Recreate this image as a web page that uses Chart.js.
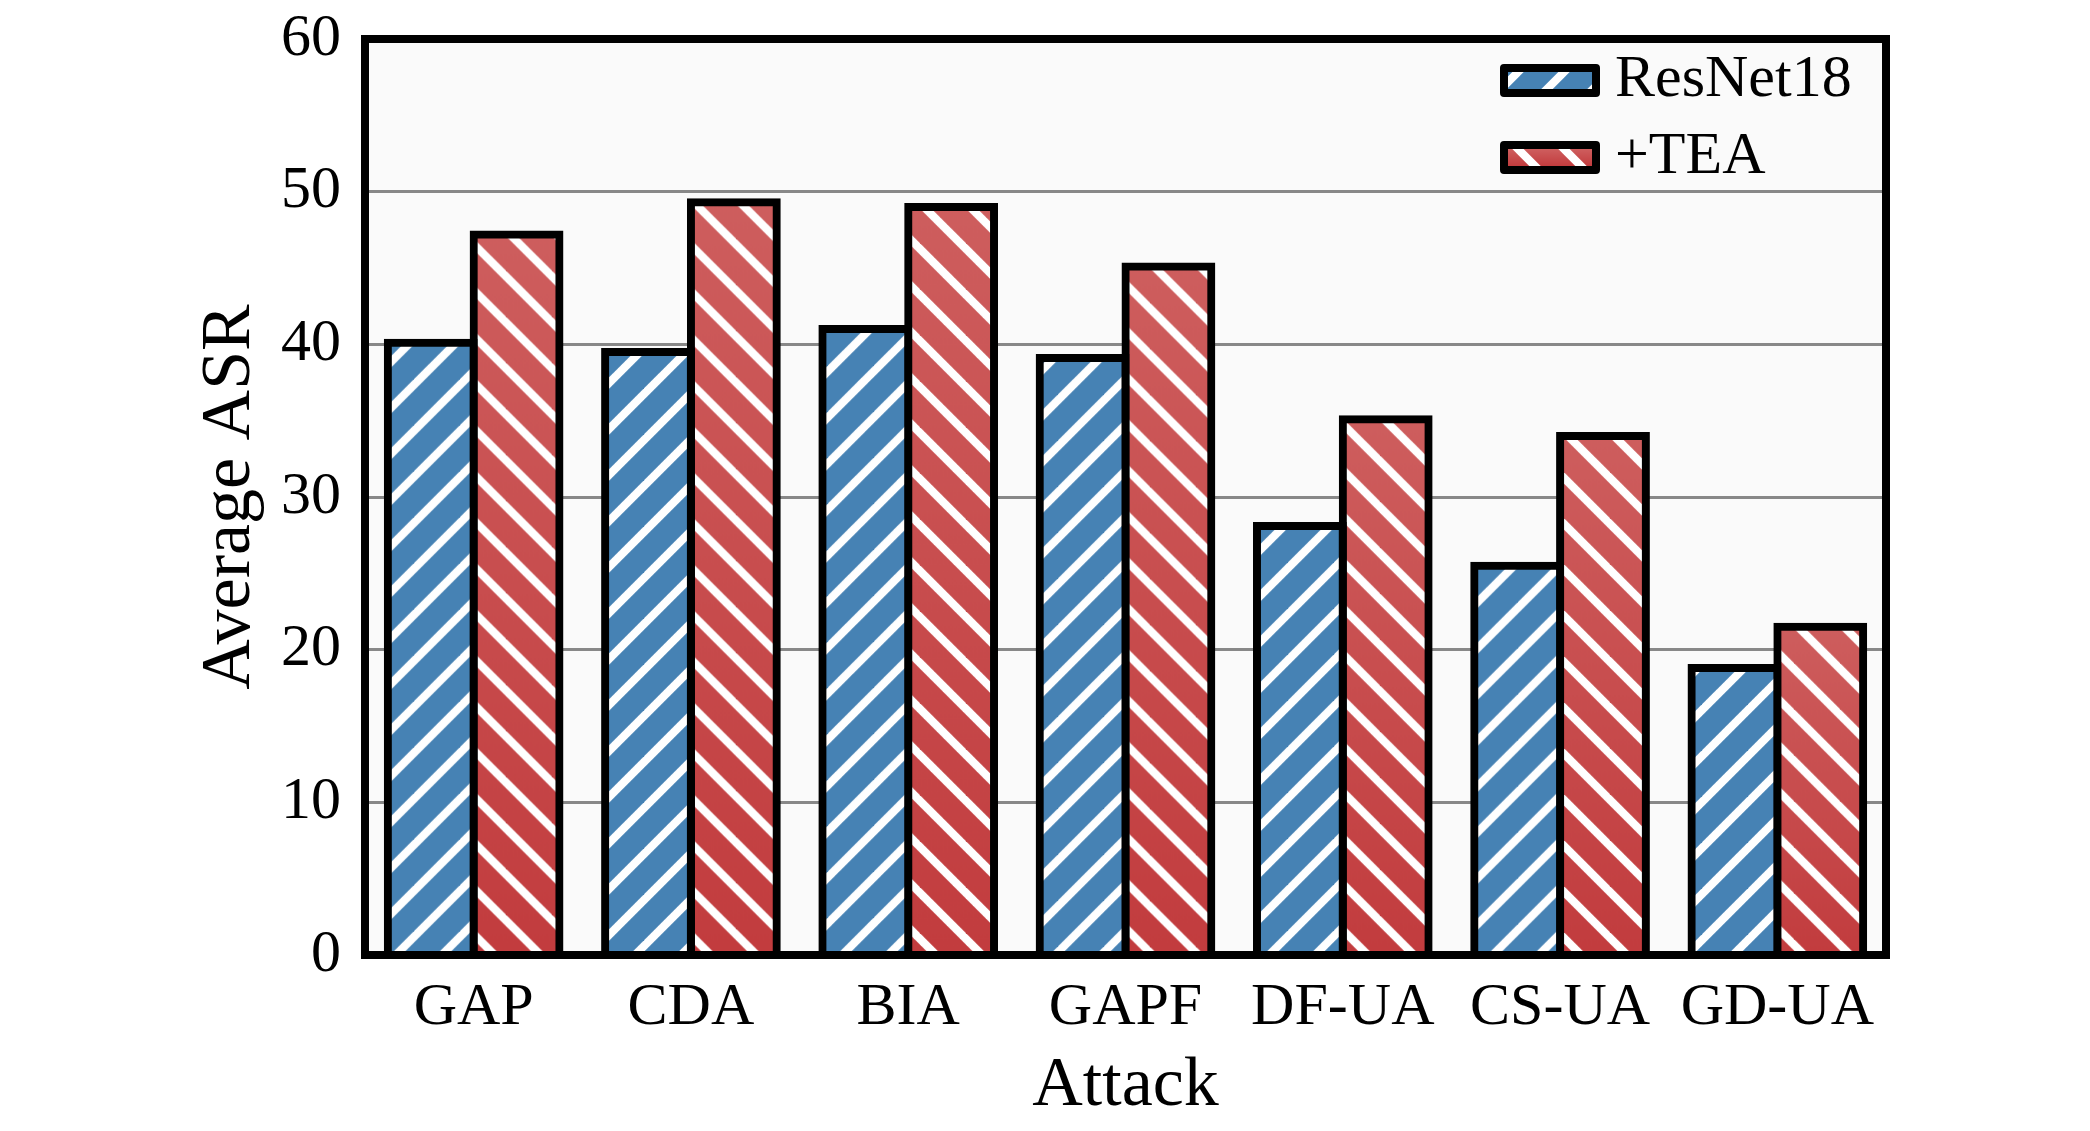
<!DOCTYPE html>
<html>
<head>
<meta charset="utf-8">
<script src="https://cdn.jsdelivr.net/npm/chart.js@4.4.0/dist/chart.umd.min.js"></script>
<style>
  html, body { margin: 0; padding: 0; background: #fff; }
  #wrap { width: 2090px; height: 1131px; }
</style>
</head>
<body>
<div id="wrap"><canvas id="asrChart" width="2090" height="1131"></canvas></div>
<script>
const attacks = ['GAP', 'CDA', 'BIA', 'GAPF', 'DF-UA', 'CS-UA', 'GD-UA'];
const resnet18 = [40.1, 39.5, 41.0, 39.1, 28.1, 25.5, 18.8];
const withTea = [47.2, 49.3, 49.0, 45.1, 35.1, 34.0, 21.5];
const yTicks = [0, 10, 20, 30, 40, 50, 60];

const STRIPE = 46;

// striped fill, optionally with a vertical gradient that starts at `top`
function makePattern(ctx, dir, top, height, colTop, colBottom) {
    const h = Math.ceil(height / STRIPE + 1) * STRIPE;
    const c = document.createElement('canvas');
    c.width = STRIPE;
    c.height = h;
    const g = c.getContext('2d');
    const grad = g.createLinearGradient(0, 0, 0, Math.max(height, 1));
    grad.addColorStop(0, colTop);
    grad.addColorStop(1, colBottom);
    g.fillStyle = grad;
    g.fillRect(0, 0, STRIPE, h);
    g.strokeStyle = '#fff';
    g.lineWidth = 8;
    const n = h / STRIPE;
    for (let k = -n - 2; k <= n + 3; k++) {
        g.beginPath();
        if (dir === '/') {
            g.moveTo(k * STRIPE + STRIPE, -STRIPE);
            g.lineTo(k * STRIPE - h - STRIPE, h + STRIPE);
        } else {
            g.moveTo(k * STRIPE - STRIPE, -STRIPE);
            g.lineTo(k * STRIPE + h + STRIPE, h + STRIPE);
        }
        g.stroke();
    }
    const pat = ctx.createPattern(c, 'repeat');
    pat.setTransform(new DOMMatrix().translate(0, top));
    return pat;
}

function barFill(dir, colTop, colBottom) {
    return (context) => {
        const chart = context.chart;
        if (!chart.chartArea || context.type !== 'data') return colTop;
        const y = chart.scales.y;
        const top = y.getPixelForValue(context.raw) - 4;
        const bottom = y.getPixelForValue(0);
        return makePattern(chart.ctx, dir, top, bottom - top, colTop, colBottom);
    };
}

const styles = [
    { dir: '/', top: '#4682B4', bottom: '#4682B4' },
    { dir: '\\', top: '#CE5E5E', bottom: '#C23C3E' }
];

const plotFrame = {
    id: 'plotFrame',
    beforeDraw(chart) {
        const { ctx, chartArea: a } = chart;
        ctx.save();
        ctx.fillStyle = '#FAFAFA';
        ctx.fillRect(a.left, a.top, a.right - a.left, a.bottom - a.top);
        ctx.restore();
    },
    afterDatasetsDraw(chart) {
        const { ctx, chartArea: a } = chart;
        ctx.save();
        ctx.strokeStyle = '#000';
        ctx.lineWidth = 8;
        ctx.strokeRect(a.left, a.top, a.right - a.left, a.bottom - a.top);
        ctx.restore();
    }
};

// legend drawn inside the plot, top right
const boxLegend = {
    id: 'boxLegend',
    afterDraw(chart) {
        const { ctx, chartArea: a } = chart;
        const x = a.right - 386, w = 100, h = 33;
        chart.data.datasets.forEach((ds, i) => {
            const y = a.top + 25 + i * 77;
            const st = styles[i];
            ctx.save();
            ctx.fillStyle = makePattern(ctx, st.dir, y + 8, h - 16, st.top, st.bottom);
            ctx.fillRect(x + 4, y + 4, w - 8, h - 8);
            ctx.strokeStyle = '#000';
            ctx.lineWidth = 8;
            ctx.lineJoin = 'round';
            ctx.strokeRect(x + 4, y + 4, w - 8, h - 8);
            ctx.fillStyle = '#000';
            ctx.font = "60px 'Liberation Serif'";
            ctx.textBaseline = 'middle';
            ctx.textAlign = 'left';
            ctx.fillText(ds.label, x + w + 15, y + h / 2);
            ctx.restore();
        });
    }
};

Chart.defaults.font.family = "'Liberation Serif', 'Times New Roman', serif";
Chart.defaults.color = '#000';

const barCommon = {
    borderColor: '#000',
    borderWidth: 8,
    borderSkipped: 'start',
    inflateAmount: 4,
    categoryPercentage: 0.79,
    barPercentage: 1.0
};

new Chart(document.getElementById('asrChart'), {
    type: 'bar',
    data: {
        labels: attacks,
        datasets: [
            Object.assign({ label: 'ResNet18', data: resnet18,
                backgroundColor: barFill(styles[0].dir, styles[0].top, styles[0].bottom) }, barCommon),
            Object.assign({ label: '+TEA', data: withTea,
                backgroundColor: barFill(styles[1].dir, styles[1].top, styles[1].bottom) }, barCommon)
        ]
    },
    options: {
        responsive: false,
        animation: false,
        devicePixelRatio: 1,
        layout: { padding: { top: 39, right: 204, bottom: 0, left: 0 } },
        plugins: { legend: { display: false }, tooltip: { enabled: false } },
        scales: {
            x: {
                grid: { display: false, drawTicks: false },
                border: { display: false },
                ticks: { font: { size: 60 }, padding: 17, maxRotation: 0, autoSkip: false, color: '#000' },
                title: { display: true, text: 'Attack', font: { size: 70 }, color: '#000', padding: { top: 0, bottom: 2 } },
                afterFit: (s) => { s.height = 176; s.paddingLeft = 0; s.paddingRight = 0; }
            },
            y: {
                min: yTicks[0],
                max: yTicks[yTicks.length - 1],
                ticks: { stepSize: yTicks[1] - yTicks[0], font: { size: 60 }, padding: 24, color: '#000' },
                grid: { color: '#888', lineWidth: 3, drawTicks: false },
                border: { display: false },
                title: { display: true, text: 'Average ASR', font: { size: 70 }, color: '#000', padding: { top: 189, bottom: 0 } },
                afterFit: (s) => { s.width = 365; s.paddingTop = 0; s.paddingBottom = 0; }
            }
        }
    },
    plugins: [plotFrame, boxLegend]
});
</script>
</body>
</html>
